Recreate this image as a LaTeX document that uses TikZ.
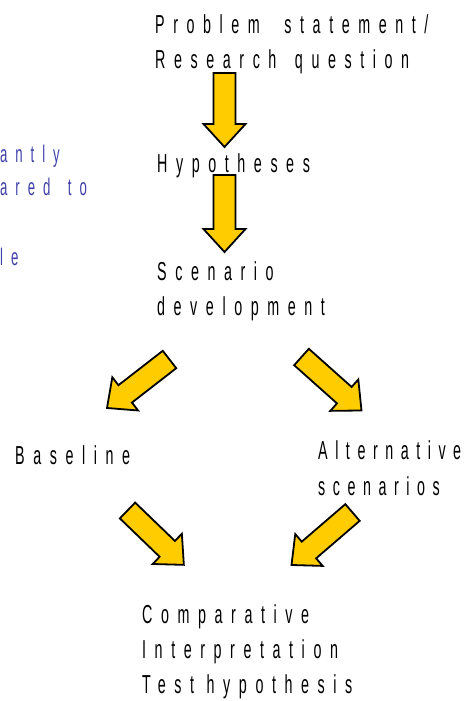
\documentclass[tikz,border=0pt]{standalone}
\usepackage{fontspec}
\newfontfamily\spacedfont[FakeStretch=0.55,LetterSpace=33]{Liberation Sans}
\newfontfamily\tightfont[FakeStretch=0.55,LetterSpace=29]{Liberation Sans}
\usetikzlibrary{calc}
\definecolor{arrowfill}{HTML}{FFCC00}
\definecolor{fragblue}{RGB}{64,64,168}
\tikzset{
  lbl/.style={anchor=base west,inner sep=0pt,align=left,
    font=\spacedfont\fontsize{26}{35}\selectfont},
  frag/.style={anchor=base west,inner sep=0pt,text=fragblue,
    font=\spacedfont\fontsize{24}{33}\selectfont},
  blockarrow/.style={draw=black,line width=1.8pt,fill=arrowfill,line join=miter}
}
\newcommand\blockarrow[2]{%
  \draw[blockarrow] let \p1=(#1), \p2=(#2),
    \n1={atan2(\y2-\y1,\x2-\x1)}, \n2={veclen(\x2-\x1,\y2-\y1)} in
    [shift={(\x1,\y1)}, rotate=\n1]
    (0pt,-11pt) -- ({\n2-23pt},-11pt) -- ({\n2-23pt},-21pt) -- ({\n2},0pt)
    -- ({\n2-23pt},21pt) -- ({\n2-23pt},11pt) -- (0pt,11pt) -- cycle;}
\begin{document}
\begin{tikzpicture}[x=1pt,y=-1pt]
\useasboundingbox (0,0) rectangle (465,701);
% labels (anchor at the baseline of the last line)
\node[lbl] (prob) at (155,68) {Problem\hspace{12pt} statement/\\Research\hspace{6pt} question};
\node[lbl] (hyp) at (157,172) {Hypotheses};
\node[lbl] (scen) at (157,315) {Scenario\\development};
\node[lbl] (base) at (15,464) {Baseline};
\node[lbl,font=\tightfont\fontsize{26}{36}\selectfont] (alt) at (318,495) {Alternative\\scenarios};
\node[lbl] (comp) at (142,693) {Comparative\\Interpretation\\Test hypothesis};
% clipped fragments from the left
\node[frag] (f1) at (0,162) {antly};
\node[frag] (f2) at (0,195) {ared\hspace{6pt} to};
\node[frag] (f3) at (0,265) {le};
% arrow end points
\coordinate (a1s) at (224.5,73);  \coordinate (a1t) at (224.5,147);
\coordinate (a2s) at (224.5,175); \coordinate (a2t) at (224.5,252);
\coordinate (a3s) at (169.5,359.5); \coordinate (a3t) at (107,408);
\coordinate (a4s) at (301.5,357); \coordinate (a4t) at (361.5,410.5);
\coordinate (a5s) at (127.5,510.5); \coordinate (a5t) at (184,565);
\coordinate (a6s) at (352.5,512.5); \coordinate (a6t) at (291.5,565);
\blockarrow{a1s}{a1t}
\blockarrow{a2s}{a2t}
\blockarrow{a3s}{a3t}
\blockarrow{a4s}{a4t}
\blockarrow{a5s}{a5t}
\blockarrow{a6s}{a6t}
\end{tikzpicture}
\end{document}
